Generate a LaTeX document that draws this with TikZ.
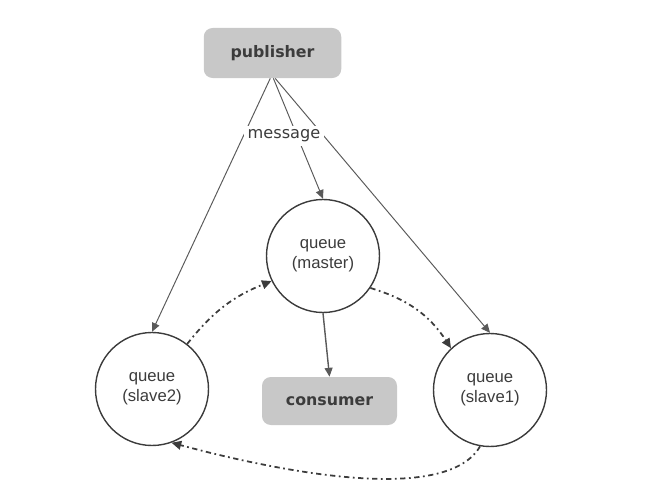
\documentclass[tikz,border=0pt]{standalone}
\usepackage{fontspec}
\setmainfont{Liberation Sans}
\newfontfamily\labelfont{DejaVu Sans}
\usepackage{tikz}
\usetikzlibrary{arrows.meta,positioning,calc,shapes.misc}

\definecolor{boxgray}{HTML}{C8C8C8}
\definecolor{inkgray}{HTML}{3C3C3C}

\begin{document}
\begin{tikzpicture}[
  queue/.style={circle,draw=inkgray,line width=0.8pt,minimum size=2.26cm,
    inner sep=0pt,align=center,font=\fontsize{9.5}{11.5}\selectfont,text=inkgray},
  box/.style={rounded corners=5pt,fill=boxgray,minimum width=2.75cm,
    minimum height=1.0cm,font=\labelfont\bfseries\fontsize{9}{11}\selectfont,text=inkgray},
  flow/.style={draw=inkgray!85,line width=0.55pt,-{Triangle[length=5pt,width=4.5pt]}},
  sync/.style={draw=inkgray,line width=1pt,dash dot,-{Triangle[length=5.5pt,width=5pt]}}
]
\useasboundingbox (0,0) rectangle (13.36,9.92);

\node[box] (pub) at (5.45,8.86) {publisher};
\node[queue] (master) at (6.46,4.8) {queue\\(master)};
\node[queue] (slave2) at (3.04,2.14) {queue\\(slave2)};
\node[queue] (slave1) at (9.8,2.12) {queue\\(slave1)};
\node[box,minimum width=2.7cm,minimum height=0.96cm] (cons) at (6.59,1.9) {consumer};

% publisher to the queues
\draw[flow] (pub.-95) -- (slave2.north);
\draw[flow] (pub.-88) -- (master.north);
\draw[flow] (pub.-84) -- (slave1.north);
\node[fill=white,inner sep=2pt,font=\labelfont\fontsize{9.2}{11}\selectfont,text=inkgray]
  (msg) at (5.68,7.2) {message};

\draw[flow,line width=0.8pt] (master.south) -- (cons.north);

% mirroring between queues
\draw[sync] (slave2.52) to[bend left=15] (master.206);
\draw[sync] (master.-34) to[bend left=20] (slave1.133);
\draw[sync] (slave1.260) to[out=240,in=-15,looseness=0.62] (slave2.290);
\end{tikzpicture}
\end{document}
